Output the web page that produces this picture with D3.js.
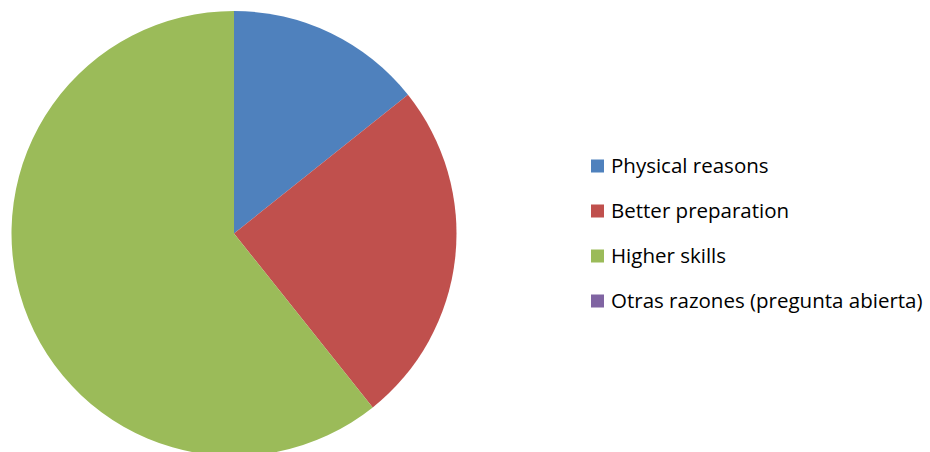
<!DOCTYPE html>
<html>
<head>
<meta charset="utf-8">
<script src="https://cdn.jsdelivr.net/npm/d3@7"></script>
<style>
  body { margin: 0; background: #fff; }
</style>
</head>
<body>
<script>
// chart data
const categories = ["Physical reasons", "Better preparation", "Higher skills", "Otras razones (pregunta abierta)"];
const values = [4, 7, 17, 0];
const colors = ["#4F81BD", "#C0504D", "#9BBB59", "#8064A2"];

const width = 930, height = 452;
const cx = 234, cy = 233.5, radius = 222.5;

const svg = d3.select("body")
  .append("svg")
    .attr("width", width)
    .attr("height", height);

const color = d3.scaleOrdinal()
  .domain(categories)
  .range(colors);

const pie = d3.pie()
  .sort(null)
  .value((d, i) => values[i]);

const arc = d3.arc()
  .innerRadius(0)
  .outerRadius(radius);

// the slices
svg.append("g")
    .attr("transform", `translate(${cx}, ${cy})`)
  .selectAll("path")
  .data(pie(categories))
  .join("path")
    .attr("d", arc)
    .attr("fill", d => color(d.data));

// legend
const legendY = d3.scalePoint()
  .domain(categories)
  .range([166, 301]);

const legend = svg.append("g")
  .selectAll("g")
  .data(categories)
  .join("g")
    .attr("transform", d => `translate(591, ${legendY(d)})`);

legend.append("rect")
    .attr("x", 0)
    .attr("y", -6.5)
    .attr("width", 13)
    .attr("height", 13)
    .attr("fill", d => color(d));

legend.append("text")
    .attr("x", 20)
    .attr("y", 0)
    .attr("dy", "0.35em")
    .style("font-family", "'Open Sans', sans-serif")
    .style("font-size", "20.5px")
    .style("fill", "#000")
    .text(d => d);
</script>
</body>
</html>
